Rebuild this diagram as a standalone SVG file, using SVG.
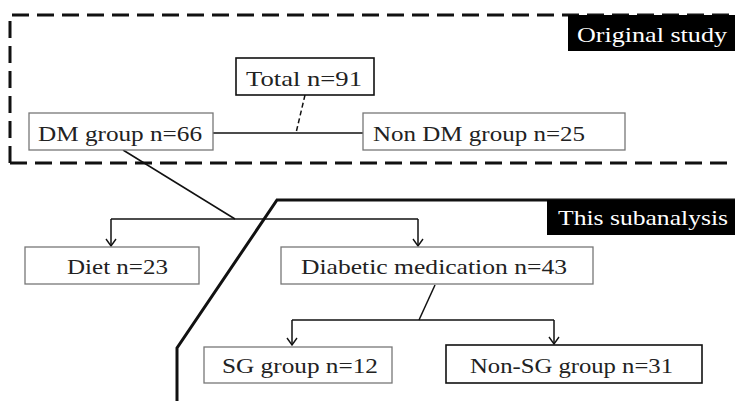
<svg xmlns="http://www.w3.org/2000/svg" width="735" height="401" viewBox="0 0 735 401">
<style>
.t{font-family:"Liberation Serif",serif;font-size:22px;fill:#222}
.box{fill:#fff;stroke:#777;stroke-width:1.3}
.boxk{fill:#fff;stroke:#111;stroke-width:1.6}
.ln{fill:none;stroke:#111;stroke-width:1.5}
.lbl{fill:#fff}
</style>
<defs>
<marker id="ah" viewBox="0 0 12 12" refX="11" refY="6" markerWidth="12" markerHeight="12" markerUnits="userSpaceOnUse" orient="auto">
<path d="M4,1 L11,6 L4,11" fill="none" stroke="#111" stroke-width="1.4"/>
</marker>
</defs>
<g id="frames">
<path d="M10,163 L10,15 L745,15 M10,163 L745,163" fill="none" stroke="#111" stroke-width="3" stroke-dasharray="17 8"/>
<path d="M177,401 L177,348 L277,200 L735,200" fill="none" stroke="#111" stroke-width="3"/>
</g>
<g id="label-original"><rect x="568" y="15" width="167" height="36" fill="#000"/><text class="t lbl" font-family="Liberation Serif" x="577" y="42" textLength="150" lengthAdjust="spacingAndGlyphs">Original study</text></g>
<g id="label-sub"><rect x="547" y="200" width="188" height="35" fill="#000"/><text class="t lbl" font-family="Liberation Serif" x="558" y="225" textLength="170" lengthAdjust="spacingAndGlyphs">This subanalysis</text></g>
<g id="connectors">
<line class="ln" x1="213" y1="133" x2="363" y2="133"/>
<line class="ln" x1="305" y1="95" x2="296" y2="133" stroke-dasharray="5 3"/>
<line class="ln" x1="123" y1="150" x2="235" y2="219"/>
<path class="ln" d="M111,219 L418,219"/>
<path class="ln" d="M111,219 L111,246" marker-end="url(#ah)"/>
<path class="ln" d="M418,219 L418,246" marker-end="url(#ah)"/>
<line class="ln" x1="435" y1="285" x2="419" y2="320"/>
<path class="ln" d="M292,320 L554,320"/>
<path class="ln" d="M292,320 L292,345" marker-end="url(#ah)"/>
<path class="ln" d="M554,320 L554,344" marker-end="url(#ah)"/>
</g>
<g id="total"><rect class="boxk" x="236" y="58" width="138" height="37"/><text class="t" font-family="Liberation Serif" x="246" y="86" textLength="116" lengthAdjust="spacingAndGlyphs">Total  n=91</text></g>
<g id="dm"><rect class="box" x="29" y="113" width="184" height="37"/><text class="t" font-family="Liberation Serif" x="38" y="141" textLength="164" lengthAdjust="spacingAndGlyphs">DM group n=66</text></g>
<g id="nondm"><rect class="box" x="363" y="113" width="262" height="37"/><text class="t" font-family="Liberation Serif" x="373" y="141" textLength="212" lengthAdjust="spacingAndGlyphs">Non DM group n=25</text></g>
<g id="diet"><rect class="box" x="25" y="247" width="174" height="37"/><text class="t" font-family="Liberation Serif" x="67" y="274" textLength="101" lengthAdjust="spacingAndGlyphs">Diet n=23</text></g>
<g id="med"><rect class="box" x="281" y="247" width="312" height="37"/><text class="t" font-family="Liberation Serif" x="301" y="274" textLength="266" lengthAdjust="spacingAndGlyphs">Diabetic medication n=43</text></g>
<g id="sg"><rect class="box" x="204" y="347" width="188" height="36"/><text class="t" font-family="Liberation Serif" x="222" y="373" textLength="156" lengthAdjust="spacingAndGlyphs">SG group n=12</text></g>
<g id="nonsg"><rect class="boxk" x="446" y="345" width="256" height="38"/><text class="t" font-family="Liberation Serif" x="470" y="373" textLength="203" lengthAdjust="spacingAndGlyphs">Non-SG group n=31</text></g>
</svg>
